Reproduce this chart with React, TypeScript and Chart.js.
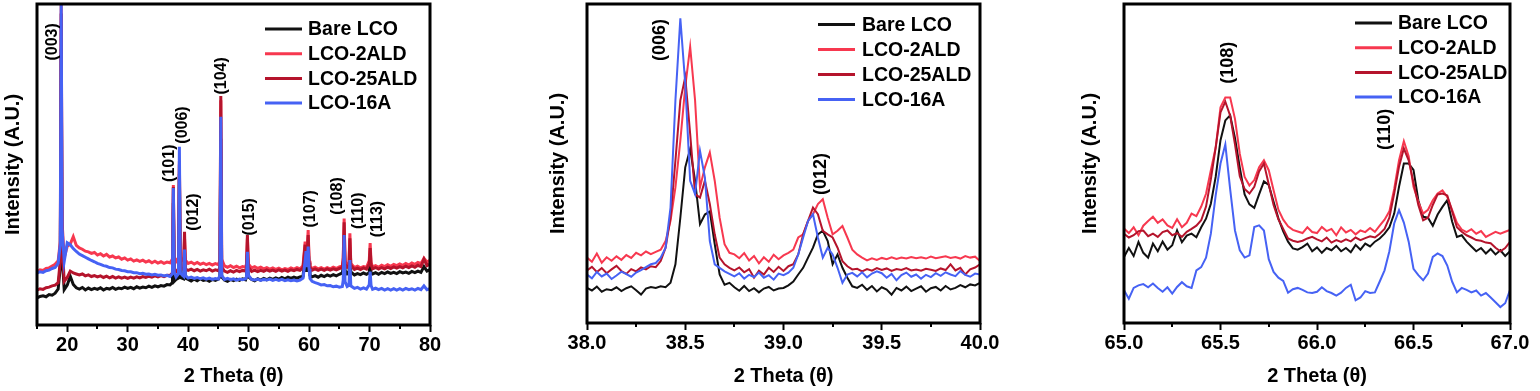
import React, { useEffect, useRef } from 'react';
import { Chart, registerables } from 'chart.js';

Chart.register(...registerables);

// ---------- shared ----------
const seriesNames = ['Bare LCO', 'LCO-2ALD', 'LCO-25ALD', 'LCO-16A'];
const seriesColors = ['#111111', '#f7384f', '#b5142c', '#4662f4'];
const seriesOrder = [3, 2, 1, 0];
const xTitle = '2 Theta (\u03b8)';
const yTitle = 'Intensity (A.U.)';
const FONT = "'Liberation Sans', Arial, Helvetica, sans-serif";

// ---------- panel 1 : 15-80 ----------
const theta1 = [
  15, 15.5, 16, 16.5, 17, 17.5, 18, 18.5, 18.85, 19,
  19.15, 19.5, 20, 20.5, 21, 21.5, 22, 22.5, 23, 23.5,
  24, 24.5, 25, 25.5, 26, 26.5, 27, 27.5, 28, 28.5,
  29, 29.5, 30, 30.5, 31, 31.5, 32, 32.5, 33, 33.5,
  34, 34.5, 35, 35.5, 36, 36.5, 37, 37.4, 37.55, 37.7,
  38, 38.4, 38.55, 38.7, 39.25, 39.4, 39.55, 40, 40.5, 41,
  41.5, 42, 42.5, 43, 43.5, 44, 44.5, 45, 45.25, 45.4,
  45.55, 46, 46.5, 47, 47.5, 48, 48.5, 49, 49.5, 49.65,
  49.8, 49.95, 50.5, 51, 51.5, 52, 52.5, 53, 53.5, 54,
  54.5, 55, 55.5, 56, 56.5, 57, 57.5, 58, 58.5, 59,
  59.35, 59.5, 59.65, 59.85, 60, 60.15, 60.5, 61, 61.5, 62,
  62.5, 63, 63.5, 64, 64.5, 65, 65.5, 65.65, 65.8, 65.95,
  66.3, 66.6, 66.75, 66.9, 67.5, 68, 68.5, 69, 69.5, 69.95,
  70.1, 70.25, 70.5, 71, 71.5, 72, 72.5, 73, 73.5, 74,
  74.5, 75, 75.5, 76, 76.5, 77, 77.5, 78, 78.5, 79,
  79.5, 80,
];
const bare1 = [
  8.4, 8.9, 9.1, 8.8, 9.5, 9.3, 9.9, 11.2, 18, 86,
  22, 11.0, 12.4, 15.2, 12.6, 11.6, 11.2, 11.7, 10.9, 11.5,
  11.0, 11.4, 11.1, 11.6, 10.9, 11.4, 11.2, 11.7, 11.1, 11.5,
  11.3, 11.8, 11.4, 11.7, 11.3, 11.9, 11.5, 11.8, 11.6, 12.1,
  11.7, 12.2, 11.9, 12.3, 12.1, 12.6, 12.5, 13.2, 38, 13.6,
  14.2, 14.6, 47, 14.8, 14.4, 21, 14.6, 14.2, 13.7, 14.3,
  13.8, 14.4, 13.9, 14.1, 13.6, 14.2, 13.9, 14.3, 15, 58,
  15, 14.0, 13.6, 14.2, 13.8, 14.3, 13.9, 14.4, 14.1, 15,
  22, 15, 14.2, 13.8, 14.4, 14.0, 14.5, 14.1, 14.6, 14.2,
  14.7, 14.3, 14.8, 14.4, 14.9, 14.5, 14.9, 14.6, 15.0, 15.2,
  21, 17, 20, 24, 18, 15.5, 15.0, 15.4, 14.9, 15.5,
  15.1, 15.6, 15.2, 15.7, 15.3, 15.8, 16.2, 18, 28, 17,
  16, 16.5, 22, 16.5, 15.6, 16.0, 15.7, 16.2, 15.8, 16.3,
  20, 16.2, 15.9, 16.3, 15.8, 16.4, 16.0, 16.5, 16.1, 16.4,
  16.0, 16.6, 16.2, 16.5, 16.1, 16.7, 16.3, 16.8, 16.4, 18.2,
  16.8, 17.3,
];
const ald2_1 = [
  16.6, 17.2, 17.0, 17.6, 17.8, 18.4, 18.9, 20.0, 26, 100,
  32, 21, 24.5, 25.2, 27.5, 24.8, 24.0, 23.6, 23.0, 22.8,
  22.3, 22.6, 21.8, 22.2, 21.5, 22.0, 21.2, 21.5, 20.9, 21.2,
  20.5, 20.9, 20.2, 20.6, 19.9, 20.3, 19.8, 20.2, 19.6, 20.0,
  19.4, 19.9, 19.3, 19.7, 19.2, 19.6, 19.4, 20.5, 43.6, 21,
  19.8, 21, 51, 21, 20, 27, 20.2, 19.2, 19.6, 19.0,
  19.5, 18.9, 19.3, 18.8, 19.2, 18.7, 19.1, 18.8, 20, 70,
  20.5, 18.4, 18.0, 18.5, 17.9, 18.3, 17.8, 18.2, 18.0, 19,
  27, 19, 17.8, 18.2, 17.6, 18.0, 17.5, 17.9, 17.4, 17.8,
  17.3, 17.7, 17.2, 17.6, 17.3, 17.8, 17.4, 17.9, 17.5, 18.4,
  26, 20, 22, 29.6, 20, 18.2, 17.6, 18.0, 17.5, 17.9,
  17.4, 17.9, 17.5, 18.0, 17.6, 18.1, 18.4, 21, 33.2, 20,
  18.6, 19, 28.6, 19.2, 17.9, 18.3, 17.8, 18.2, 18.0, 20,
  25.5, 19.5, 18.1, 18.5, 18.0, 18.6, 18.2, 18.8, 18.3, 18.9,
  18.5, 19.0, 18.6, 19.2, 18.7, 19.3, 18.9, 19.5, 19.1, 20.8,
  19.6, 20.2,
];
const ald25_1 = [
  10.9, 11.3, 11.1, 11.6, 11.8, 12.2, 12.4, 13.2, 20, 97,
  26, 13.6, 14.8, 16.8, 16.2, 15.9, 15.6, 15.9, 15.3, 15.6,
  15.1, 15.4, 15.0, 15.3, 14.8, 15.2, 14.7, 15.1, 14.6, 15.0,
  14.6, 14.9, 14.5, 14.9, 14.6, 15.0, 14.7, 15.1, 14.8, 15.2,
  14.9, 15.3, 15.0, 15.4, 15.1, 15.5, 15.4, 16.2, 43, 17,
  16.6, 17.5, 50, 17.8, 17.2, 29, 17.4, 17.0, 17.4, 16.9,
  17.3, 16.8, 17.2, 16.9, 17.4, 16.8, 17.2, 16.9, 18, 71.3,
  18, 16.8, 16.4, 16.9, 16.5, 17.0, 16.6, 17.0, 16.8, 18,
  28, 18, 16.7, 17.1, 16.6, 17.0, 16.7, 17.2, 16.8, 17.1,
  16.7, 17.2, 16.8, 17.1, 16.7, 17.2, 16.9, 17.3, 17.0, 17.8,
  25, 19, 21, 28, 19.5, 17.8, 17.1, 17.5, 17.0, 17.4,
  17.0, 17.5, 17.1, 17.5, 17.2, 17.6, 17.9, 20, 32, 19,
  18, 18.3, 27, 18.6, 17.3, 17.7, 17.3, 17.8, 17.4, 19,
  24, 18.8, 17.5, 17.9, 17.4, 17.9, 17.5, 18.0, 17.6, 18.1,
  17.7, 18.2, 17.8, 18.3, 17.9, 18.4, 18.0, 18.6, 18.2, 20.5,
  18.5, 19.0,
];
const a16_1 = [
  16.2, 16.6, 16.4, 16.9, 17.1, 17.6, 17.9, 19.2, 25, 100,
  30, 19.8, 25.6, 25.0, 23.8, 22.9, 22.1, 21.6, 21.1, 20.6,
  20.1, 19.7, 19.2, 18.9, 18.5, 18.3, 17.9, 17.8, 17.4, 17.3,
  17.0, 16.9, 16.6, 16.6, 16.3, 16.3, 16.0, 16.1, 15.8, 15.9,
  15.6, 15.8, 15.5, 15.6, 15.3, 15.5, 15.1, 16.0, 42.7, 16.5,
  15.0, 16, 55.5, 16.2, 15.2, 23.5, 15.4, 14.6, 14.9, 14.5,
  14.8, 14.4, 14.7, 14.3, 14.6, 14.2, 14.5, 14.3, 15.5, 64.9,
  15.5, 14.2, 14.5, 14.1, 14.4, 14.0, 14.3, 14.1, 14.4, 15,
  22.8, 15.5, 14.2, 14.0, 14.3, 13.9, 14.2, 14.0, 14.3, 13.9,
  14.2, 13.9, 14.2, 13.8, 14.1, 13.8, 14.0, 13.7, 14.0, 14.6,
  20, 23, 18, 24.4, 17.5, 14.5, 13.6, 13.2, 12.9, 12.5,
  12.6, 12.2, 12.3, 11.9, 12.1, 11.8, 12.0, 14, 28, 13.5,
  12, 12.4, 20.2, 12.2, 11.4, 11.7, 11.2, 11.6, 11.2, 12.5,
  16.6, 12.3, 11.1, 11.5, 11.0, 11.4, 10.9, 11.3, 10.9, 11.3,
  10.9, 11.3, 10.9, 11.4, 11.0, 11.3, 10.9, 11.4, 11.0, 12.2,
  11.0, 11.3,
];
const peaks1 = [
  { text: '(003)', x: 17.5, y: 88.2 },
  { text: '(101)', x: 36.9, y: 50.4 },
  { text: '(006)', x: 39.03, y: 62.3 },
  { text: '(012)', x: 40.9, y: 35.2 },
  { text: '(104)', x: 45.55, y: 77.6 },
  { text: '(015)', x: 50.2, y: 33.7 },
  { text: '(107)', x: 60.2, y: 36.2 },
  { text: '(108)', x: 64.7, y: 40.2 },
  { text: '(110)', x: 68.2, y: 35.6 },
  { text: '(113)', x: 71.35, y: 33 },
];

// ---------- panel 2 : 38-40 ----------
const theta2 = [
  38.000, 38.025, 38.050, 38.075, 38.100, 38.125, 38.150, 38.175, 38.200, 38.225,
  38.250, 38.275, 38.300, 38.325, 38.350, 38.375, 38.400, 38.425, 38.450, 38.475,
  38.500, 38.525, 38.550, 38.575, 38.600, 38.625, 38.650, 38.675, 38.700, 38.725,
  38.750, 38.775, 38.800, 38.825, 38.850, 38.875, 38.900, 38.925, 38.950, 38.975,
  39.000, 39.025, 39.050, 39.075, 39.100, 39.125, 39.150, 39.175, 39.200, 39.225,
  39.250, 39.275, 39.300, 39.325, 39.350, 39.375, 39.400, 39.425, 39.450, 39.475,
  39.500, 39.525, 39.550, 39.575, 39.600, 39.625, 39.650, 39.675, 39.700, 39.725,
  39.750, 39.775, 39.800, 39.825, 39.850, 39.875, 39.900, 39.925, 39.950, 39.975,
  40.000,
];
const bare2 = [
  11.0, 10.2, 11.4, 9.8, 10.6, 10.3, 11.2, 10.0, 10.9, 11.5,
  10.3, 8.9, 10.8, 11.3, 11.0, 11.5, 11.2, 12.6, 18.4, 33,
  48.8, 54.6, 44.6, 31, 34, 35, 24.7, 15.2, 12.0, 12.6,
  11.2, 10.1, 11.6, 10.0, 10.9, 9.6, 10.8, 11.3, 10.2, 10.8,
  11.0, 11.8, 13.0, 15.2, 17.3, 20.5, 23.6, 27.8, 28.9, 25.7,
  18.4, 21.5, 17.3, 14.2, 11.5, 11.0, 12.0, 10.4, 11.6, 9.9,
  11.2, 10.5, 8.9, 11.0, 10.2, 11.4, 10.0, 10.8, 11.5, 9.8,
  10.9, 11.3, 10.2, 11.6, 10.5, 11.0, 11.9, 11.2, 12.1, 11.8,
  12.6,
];
const ald2_2 = [
  20.5, 19.2, 21.8, 18.9, 20.6, 19.5, 20.9, 19.8, 21.3, 20.4,
  22.0, 21.2, 22.4, 21.6, 22.3, 23.0, 25.7, 32, 42.5, 57.2,
  74, 86.6, 69.8, 42.5, 48.8, 53.5, 44.6, 33, 24.7, 22,
  21.5, 20.3, 21.9, 19.6, 21.0, 18.7, 20.6, 19.2, 21.4, 20.0,
  21.2, 22.0, 23.0, 26.8, 27.8, 32, 34.1, 37.3, 38.8, 33,
  27.8, 28.9, 30.4, 26.8, 23, 21.5, 20.5, 19.6, 20.3, 19.8,
  20.4, 20.0, 20.6, 20.1, 20.5, 20.2, 20.7, 20.3, 20.6, 20.2,
  20.8, 20.3, 20.6, 20.9, 20.4, 20.7, 20.2, 21.0, 20.5, 20.8,
  19.4,
];
const ald25_2 = [
  16.5, 17.6, 16.0, 17.2, 15.6, 16.8, 17.9, 16.3, 15.4, 16.9,
  16.2, 17.4, 16.8, 17.8, 17.5, 19.4, 23.6, 33, 50.9, 69.8,
  77.1, 59.3, 40.4, 39.3, 44.6, 37.3, 27.8, 20.5, 18.4, 17.3,
  16.5, 17.4, 15.9, 16.9, 14.2, 16.4, 15.2, 17.3, 16.0, 17.6,
  16.3, 17.8, 18.4, 21.5, 27.8, 32, 36.2, 34.1, 28.9, 27.8,
  26.8, 23.6, 19.4, 17.8, 16.8, 17.0, 16.2, 16.9, 16.4, 17.2,
  16.6, 17.1, 16.3, 16.9, 16.6, 17.2, 16.5, 16.8, 16.4, 17.0,
  16.7, 16.3, 17.1, 16.6, 18.4, 16.5, 17.3, 15.2, 16.8, 17.4,
  18.4,
];
const a16_2 = [
  15.2, 14.0, 16.0, 14.6, 15.5, 13.8, 14.9, 16.1, 15.3, 14.5,
  15.8, 16.6, 17.5, 18.4, 18.8, 20.5, 23.6, 36.2, 69.8, 95.5,
  75, 44.6, 40.4, 54, 45.6, 25.7, 18.4, 17.3, 16.2, 15.4,
  14.6, 15.6, 13.9, 15.1, 14.4, 15.8, 14.2, 15.0, 13.6, 15.5,
  15.0, 15.8, 17.3, 21.5, 26.8, 32, 34.1, 26.8, 20.5, 23.6,
  21.5, 17.3, 12.6, 15.2, 15.7, 14.6, 15.9, 14.3, 15.5, 16.2,
  15.6, 14.2, 15.4, 13.4, 15.0, 15.8, 14.5, 15.2, 13.9, 15.1,
  14.4, 15.6, 14.8, 15.9, 15.2, 14.7, 16.3, 15.1, 14.5, 15.5,
  15.2,
];
const peaks2 = [
  { text: '(006)', x: 38.37, y: 88.7 },
  { text: '(012)', x: 39.19, y: 46.7 },
];

// ---------- panel 3 : 65-67 ----------
const theta3 = [
  65.000, 65.025, 65.050, 65.075, 65.100, 65.125, 65.150, 65.175, 65.200, 65.225,
  65.250, 65.275, 65.300, 65.325, 65.350, 65.375, 65.400, 65.425, 65.450, 65.475,
  65.500, 65.525, 65.550, 65.575, 65.600, 65.625, 65.650, 65.675, 65.700, 65.725,
  65.750, 65.775, 65.800, 65.825, 65.850, 65.875, 65.900, 65.925, 65.950, 65.975,
  66.000, 66.025, 66.050, 66.075, 66.100, 66.125, 66.150, 66.175, 66.200, 66.225,
  66.250, 66.275, 66.300, 66.325, 66.350, 66.375, 66.400, 66.425, 66.450, 66.475,
  66.500, 66.525, 66.550, 66.575, 66.600, 66.625, 66.650, 66.675, 66.700, 66.725,
  66.750, 66.775, 66.800, 66.825, 66.850, 66.875, 66.900, 66.925, 66.950, 66.975,
  67.000,
];
const bare3 = [
  20.7, 23.5, 21.0, 25.4, 22.0, 20.5, 24.9, 22.5, 25.5, 23.0,
  24.4, 29.0, 25.3, 27.4, 28.0, 26.9, 30.0, 32.7, 37.4, 45.8,
  57.3, 63.5, 65.1, 58.0, 48.7, 40.3, 37.2, 36.1, 40.3, 44.4,
  43.3, 38.0, 32.8, 28.7, 25.5, 23.4, 23.0, 23.8, 24.9, 22.5,
  23.7, 22.0, 23.5, 22.8, 24.2, 22.5, 23.5, 22.2, 24.5, 23.0,
  24.9, 24.0, 25.5, 26.5, 28.0, 30.0, 34.3, 42.7, 50.0, 50.0,
  48.0, 38.5, 33.3, 33.0, 30.5, 34.0, 36.4, 38.5, 31.8, 27.0,
  27.5, 25.5, 24.0, 22.5, 23.5, 21.8, 23.2, 21.5, 22.8, 21.0,
  22.5,
];
const ald2_3 = [
  29.6, 28.2, 30.0, 27.5, 30.5, 32.0, 33.3, 31.4, 32.5, 30.6,
  29.8, 32.5, 30.0, 31.4, 34.3, 33.5, 36.5, 40.5, 47.9, 55.0,
  67.6, 70.7, 70.7, 64.0, 53.0, 45.8, 43.1, 44.8, 48.8, 51.0,
  47.9, 41.6, 35.5, 32.4, 30.3, 29.2, 28.7, 28.2, 30.0, 28.5,
  28.2, 30.1, 28.8, 29.5, 27.5, 30.0, 28.4, 29.2, 27.8, 29.0,
  28.5, 29.8, 28.6, 30.5, 32.4, 35.0, 42.0, 51.0, 57.0, 52.3,
  42.7, 38.0, 34.3, 35.5, 38.5, 40.6, 41.6, 39.5, 35.5, 31.4,
  29.3, 28.5, 29.4, 28.0, 28.8, 27.0, 27.8, 28.6, 28.0, 28.6,
  29.2,
];
const ald25_3 = [
  28.0, 26.8, 27.5, 28.8, 29.0, 27.2, 28.0, 27.0, 28.5, 29.0,
  27.5, 28.2, 27.0, 28.6, 29.5, 30.5, 32.2, 36.5, 45.0, 55.0,
  66.0, 69.4, 65.0, 56.0, 46.0, 42.0, 40.6, 42.7, 47.5, 50.0,
  43.5, 37.0, 32.5, 29.5, 26.5, 25.8, 25.4, 25.8, 26.5, 27.0,
  26.2, 25.6, 26.8, 25.2, 26.0, 25.4, 26.2, 25.6, 26.8, 26.0,
  26.6, 27.2, 26.8, 28.0, 29.5, 33.0, 40.6, 49.0, 54.7, 51.0,
  44.0, 37.0, 32.2, 33.0, 37.0, 40.3, 40.6, 40.0, 35.0, 30.0,
  28.6, 27.5, 26.8, 26.0, 25.8, 25.2, 25.0, 23.6, 22.5, 23.5,
  25.4,
];
const a16_3 = [
  10.3, 7.6, 11.0, 11.8, 12.2, 11.2, 12.4, 11.0, 9.8, 11.2,
  9.2, 11.3, 12.8, 11.5, 11.0, 16.5, 17.5, 20.5, 28.0, 40.0,
  50.0, 56.0, 42.0, 29.0, 22.8, 20.5, 21.2, 30.1, 30.6, 29.0,
  20.0, 16.0, 14.2, 13.2, 9.5, 10.6, 11.0, 10.4, 9.6, 9.4,
  9.8, 11.2, 10.0, 9.4, 8.6, 9.5, 11.0, 12.0, 7.1, 8.0,
  10.0, 9.4, 9.6, 13.0, 16.5, 22.5, 31.2, 35.4, 31.5, 25.5,
  17.0, 15.0, 13.4, 15.5, 20.7, 21.8, 21.0, 18.0, 13.0, 9.6,
  11.0, 10.4, 9.6, 10.2, 8.6, 9.4, 8.0, 6.5, 5.0, 6.2,
  10.3,
];
const peaks3 = [
  { text: '(108)', x: 65.54, y: 81.6 },
  { text: '(110)', x: 66.35, y: 60.7 },
];

// ---------- layout of the three panels (pixels) ----------
type PanelCfg = {
  left: number; width: number;
  plotLeft: number; plotRight: number; plotTop: number; plotBottom: number;
  yTitleX: number;
  xMin: number; xMax: number; step: number; major: number; decimals: number;
  x: number[]; ys: number[][];
  peaks: { text: string; x: number; y: number }[];
  peakFont: number;
  legendLineX: number; legendTextX: number; legendTop: number; legendGap: number;
  lineWidth: number;
};

const panels: PanelCfg[] = [
  {
    left: 0, width: 470, plotLeft: 37, plotRight: 430, plotTop: 4, plotBottom: 325, yTitleX: 13,
    xMin: 15, xMax: 80, step: 5, major: 10, decimals: 0,
    x: theta1, ys: [bare1, ald2_1, ald25_1, a16_1], peaks: peaks1, peakFont: 16,
    legendLineX: 265, legendTextX: 308, legendTop: 29, legendGap: 24.7, lineWidth: 3,
  },
  {
    left: 470, width: 570, plotLeft: 587, plotRight: 980, plotTop: 4, plotBottom: 323, yTitleX: 558,
    xMin: 38, xMax: 40, step: 0.25, major: 0.5, decimals: 1,
    x: theta2, ys: [bare2, ald2_2, ald25_2, a16_2], peaks: peaks2, peakFont: 18,
    legendLineX: 818, legendTextX: 862, legendTop: 24.5, legendGap: 25, lineWidth: 2,
  },
  {
    left: 1040, width: 500, plotLeft: 1124, plotRight: 1510, plotTop: 4, plotBottom: 323, yTitleX: 1090,
    xMin: 65, xMax: 67, step: 0.25, major: 0.5, decimals: 1,
    x: theta3, ys: [bare3, ald2_3, ald25_3, a16_3], peaks: peaks3, peakFont: 18,
    legendLineX: 1355, legendTextX: 1398, legendTop: 23, legendGap: 24.7, lineWidth: 2,
  },
];

const H = 391;

function isMajor(v: number, major: number) {
  const k = v / major;
  return Math.abs(k - Math.round(k)) < 1e-6;
}

function Panel({ cfg }: { cfg: PanelCfg }) {
  const ref = useRef<HTMLCanvasElement | null>(null);
  useEffect(() => {
    const canvas = ref.current;
    if (!canvas) return;
    const padLeft = Math.max(0, cfg.yTitleX - cfg.left - 13);
    const yWidth = cfg.plotLeft - cfg.left - padLeft;
    const decor = {
      id: 'decor',
      afterDatasetsDraw(chart: any) {
        const { ctx, chartArea, scales } = chart;
        ctx.save();
        // minor ticks (shorter than the major ones)
        ctx.strokeStyle = '#000';
        ctx.lineWidth = 2;
        scales.x.ticks.forEach((t: any) => {
          if (isMajor(t.value, cfg.major)) return;
          const px = Math.round(scales.x.getPixelForValue(t.value));
          ctx.beginPath();
          ctx.moveTo(px, chartArea.bottom);
          ctx.lineTo(px, chartArea.bottom + 4);
          ctx.stroke();
        });
        // frame
        ctx.lineWidth = 3;
        ctx.strokeRect(chartArea.left, chartArea.top, chartArea.right - chartArea.left, chartArea.bottom - chartArea.top);
        // peak labels
        ctx.fillStyle = '#000';
        ctx.font = `bold ${cfg.peakFont}px ${FONT}`;
        ctx.textAlign = 'center';
        ctx.textBaseline = 'middle';
        cfg.peaks.forEach((p) => {
          const px = scales.x.getPixelForValue(p.x);
          const py = scales.y.getPixelForValue(p.y);
          ctx.save();
          ctx.translate(px, py);
          ctx.rotate(-Math.PI / 2);
          ctx.fillText(p.text, 0, 0);
          ctx.restore();
        });
        // legend
        ctx.font = `bold 19.5px ${FONT}`;
        ctx.textAlign = 'left';
        chart.data.datasets.forEach((ds: any, i: number) => {
          const y = cfg.legendTop + i * cfg.legendGap;
          const lx = cfg.legendLineX - cfg.left;
          ctx.strokeStyle = ds.borderColor;
          ctx.lineWidth = 3;
          ctx.beginPath();
          ctx.moveTo(lx, y);
          ctx.lineTo(lx + 37, y);
          ctx.stroke();
          ctx.fillStyle = '#000';
          ctx.fillText(ds.label, cfg.legendTextX - cfg.left, y + 1);
        });
        ctx.restore();
      },
    };
    const chart = new Chart(canvas, {
      type: 'line',
      data: {
        datasets: seriesNames.map((name, i) => ({
          label: name,
          data: cfg.x.map((x, j) => ({ x, y: cfg.ys[i][j] })),
          borderColor: seriesColors[i],
          backgroundColor: seriesColors[i],
          borderWidth: cfg.lineWidth,
          pointRadius: 0,
          tension: 0,
          fill: false,
          order: seriesOrder[i],
        })),
      },
      options: {
        animation: false,
        responsive: false,
        maintainAspectRatio: false,
        events: [],
        layout: {
          padding: {
            left: padLeft,
            right: cfg.left + cfg.width - cfg.plotRight,
            top: cfg.plotTop,
            bottom: 0,
          },
        },
        plugins: { legend: { display: false }, tooltip: { enabled: false } },
        scales: {
          x: {
            type: 'linear',
            min: cfg.xMin,
            max: cfg.xMax,
            afterFit: (s: any) => { s.height = H - cfg.plotBottom; },
            border: { display: false },
            grid: {
              display: true, drawOnChartArea: false, drawTicks: true, tickLength: 7, tickWidth: 2,
              tickColor: (c: any) => (c.tick && isMajor(c.tick.value, cfg.major) ? '#000' : 'rgba(0,0,0,0)'),
            },
            ticks: {
              stepSize: cfg.step,
              autoSkip: false,
              maxRotation: 0,
              padding: 1,
              color: '#000',
              font: { family: FONT, size: 20, weight: 'bold' },
              callback: (v: any) => {
                const n = Number(v);
                if (!isMajor(n, cfg.major)) return '';
                if (Math.abs(n - cfg.xMin) < 1e-6 && cfg.decimals === 0) return '';
                return n.toFixed(cfg.decimals);
              },
            },
            title: {
              display: true, text: xTitle, color: '#000',
              font: { family: FONT, size: 20, weight: 'bold' },
              padding: { top: 0, bottom: 2.3 },
            },
          },
          y: {
            min: 0,
            max: 100,
            afterFit: (s: any) => { s.width = yWidth; },
            border: { display: false },
            grid: { display: false },
            ticks: { display: false },
            title: {
              display: true, text: yTitle, color: '#000',
              font: { family: FONT, size: 20, weight: 'bold' },
              padding: { top: 1, bottom: 0 },
            },
          },
        },
      },
      plugins: [decor],
    } as any);
    return () => chart.destroy();
  }, [cfg]);
  return (
    <canvas
      ref={ref}
      width={cfg.width}
      height={H}
      style={{ position: 'absolute', left: cfg.left, top: 0, width: cfg.width, height: H }}
    />
  );
}

export default function App() {
  return (
    <div style={{ position: 'absolute', left: 0, top: 0, width: 1540, height: H, background: '#fff', overflow: 'hidden' }}>
      {panels.map((p, i) => (
        <Panel key={i} cfg={p} />
      ))}
    </div>
  );
}
